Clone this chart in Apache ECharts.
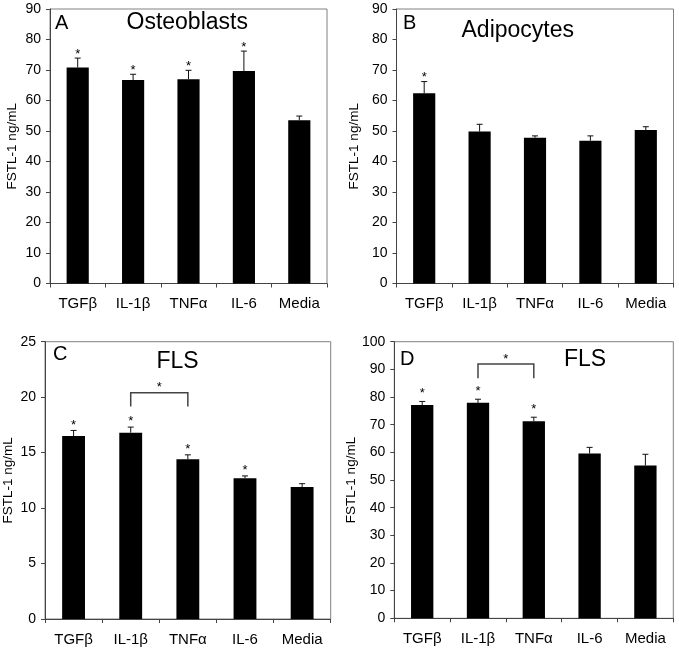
<!DOCTYPE html>
<html><head><meta charset="utf-8">
<script src="https://cdn.jsdelivr.net/npm/echarts@6/dist/echarts.min.js"></script>
<style>html,body{margin:0;padding:0;background:#fff}#c{width:679px;height:653px}</style>
</head><body><div id="c"></div>
<script>
// ---- data ----
const categories = ['TGFβ', 'IL-1β', 'TNFα', 'IL-6', 'Media'];

const osteoMean   = [70.8, 66.7, 67.0, 69.7, 53.5];
const osteoErrTop = [73.9, 68.6, 69.9, 76.2, 54.9];
const osteoStar   = [1, 1, 1, 1, 0];

const adipoMean   = [62.4, 49.8, 47.8, 46.8, 50.3];
const adipoErrTop = [66.2, 52.2, 48.4, 48.4, 51.4];
const adipoStar   = [1, 0, 0, 0, 0];

const flsCMean    = [16.5, 16.8, 14.4, 12.7, 11.9];
const flsCErrTop  = [17.0, 17.3, 14.8, 12.9, 12.2];
const flsCStar    = [1, 1, 1, 1, 0];

const flsDMean    = [77.1, 77.9, 71.2, 59.6, 55.2];
const flsDErrTop  = [78.4, 79.2, 72.7, 61.8, 59.3];
const flsDStar    = [1, 1, 1, 0, 0];

// bracket: [fromCategoryIndex, toCategoryIndex, topValue, bottomValue]
const bracketC = [1, 2, 20.4, 19.15];
const bracketD = [1, 2, 91.9, 86.8];

const yScaleA = [0, 90, 10];
const yScaleB = [0, 90, 10];
const yScaleC = [0, 25, 5];
const yScaleD = [0, 100, 10];

const yAxisTitle = 'FSTL-1 ng/mL';
const panelLetters = ['A', 'B', 'C', 'D'];
const panelTitles = ['Osteoblasts', 'Adipocytes', 'FLS', 'FLS'];

// ---- layout / style ----
const FONT = 'Liberation Sans, Arial, sans-serif';
const panels = [
  {grid:{left:50, top:9, width:277, height:274.5}, mean:osteoMean, err:osteoErrTop, star:osteoStar, y:yScaleA, nameGap:31, starOff:4, bracket:null,
   letter:{x:55, y:23}, title:{x:126.5, y:23}},
  {grid:{left:396.5, top:9, width:277, height:274.5}, mean:adipoMean, err:adipoErrTop, star:adipoStar, y:yScaleB, nameGap:35.5, starOff:4, bracket:null,
   letter:{x:403, y:23}, title:{x:461.5, y:31}},
  {grid:{left:45, top:341.7, width:285.7, height:277.3}, mean:flsCMean, err:flsCErrTop, star:flsCStar, y:yScaleC, nameGap:30, starOff:5.5, bracket:bracketC,
   letter:{x:53, y:354}, title:{x:156.5, y:362}},
  {grid:{left:394.3, top:341.7, width:279, height:276.6}, mean:flsDMean, err:flsDErrTop, star:flsDStar, y:yScaleD, nameGap:36, starOff:8, bracket:bracketD,
   letter:{x:400, y:359}, title:{x:564, y:360}}
];

function errRender(starOff) {
  return function (params, api) {
    const i = api.value(0), top = api.value(1), mean = api.value(2), star = api.value(3);
    const p0 = api.coord([i, mean]);
    const p1 = api.coord([i, top]);
    const children = [
      {type:'line', shape:{x1:p0[0], y1:p0[1], x2:p1[0], y2:p1[1]}, style:{stroke:'#111', lineWidth:1}},
      {type:'line', shape:{x1:p1[0]-3, y1:p1[1], x2:p1[0]+3, y2:p1[1]}, style:{stroke:'#111', lineWidth:1}}
    ];
    if (star) children.push({type:'text', x:p1[0], y:p1[1]-starOff,
      style:{text:'*', fontSize:13, fontFamily:FONT, fill:'#000', align:'center', verticalAlign:'middle'}});
    return {type:'group', children};
  };
}
function bracketRender(params, api) {
  const a = api.value(0), b = api.value(1), top = api.value(2), bot = api.value(3);
  const pa = api.coord([a, bot]), pat = api.coord([a, top]);
  const pb = api.coord([b, bot]), pbt = api.coord([b, top]);
  return {type:'group', children:[
    {type:'polyline', shape:{points:[pa, pat, pbt, pb]}, style:{stroke:'#444', lineWidth:1.5, fill:null}},
    {type:'text', x:(pat[0]+pbt[0])/2, y:pat[1]-5, style:{text:'*', fontSize:13, fontFamily:FONT, fill:'#000', align:'center', verticalAlign:'middle'}}
  ]};
}

const grid = [], xAxis = [], yAxis = [], series = [], graphic = [];
panels.forEach((p, k) => {
  grid.push(Object.assign({show:true, borderColor:'#808080', borderWidth:1, backgroundColor:'#fff',
    containLabel:false, outerBoundsMode:'none'}, p.grid));
  xAxis.push({type:'category', gridIndex:k, data:categories,
    axisLine:{lineStyle:{color:'#444', width:1}},
    axisTick:{show:true, length:4, lineStyle:{color:'#444'}},
    axisLabel:{color:'#000', fontSize:15, fontFamily:FONT, margin:13}});
  yAxis.push({type:'value', gridIndex:k, min:p.y[0], max:p.y[1], interval:p.y[2],
    name:yAxisTitle, nameLocation:'middle', nameGap:p.nameGap, nameRotate:90,
    nameTextStyle:{fontSize:13.5, fontFamily:FONT, color:'#000'},
    axisLine:{show:true, lineStyle:{color:'#444', width:1}},
    axisTick:{show:true, length:4, lineStyle:{color:'#444'}},
    splitLine:{show:false},
    axisLabel:{color:'#000', fontSize:14, fontFamily:FONT, margin:9}});
  series.push({type:'bar', xAxisIndex:k, yAxisIndex:k, data:p.mean, barWidth:'40%',
    itemStyle:{color:'#000'}, silent:true, animation:false});
  series.push({type:'custom', xAxisIndex:k, yAxisIndex:k, renderItem:errRender(p.starOff),
    encode:{x:0, y:1}, z:5, animation:false,
    data:p.mean.map((m, i) => [i, p.err[i], m, p.star[i]])});
  if (p.bracket) series.push({type:'custom', xAxisIndex:k, yAxisIndex:k, renderItem:bracketRender,
    encode:{x:[0,1], y:[2,3]}, z:6, animation:false, data:[p.bracket]});
  graphic.push({type:'text', x:p.letter.x, y:p.letter.y, z:100,
    style:{text:panelLetters[k], fontSize:20, fontFamily:FONT, fill:'#000', verticalAlign:'middle'}});
  graphic.push({type:'text', x:p.title.x, y:p.title.y, z:100,
    style:{text:panelTitles[k], fontSize:23, fontFamily:FONT, fill:'#000', verticalAlign:'middle'}});
});

const chart = echarts.init(document.getElementById('c'));
chart.setOption({animation:false, backgroundColor:'#fff', grid, xAxis, yAxis, series, graphic});
</script>
</body></html>
